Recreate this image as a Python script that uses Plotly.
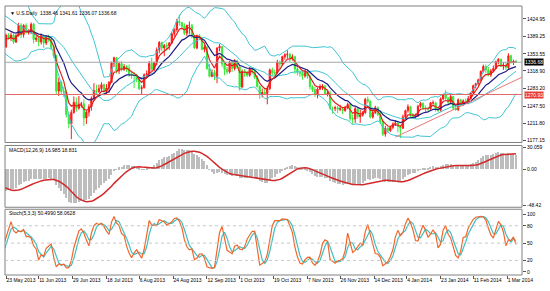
import numpy as np
import pandas as pd
import plotly.graph_objects as go

# ---------------- data (daily bars, gold) ----------------
start_date = "2013-04-01"
end_date = "2014-03-06"
holidays = ["2013-12-25", "2014-01-01"]
first_visible = "2013-05-23"

opens = [
    1597,1598,1575,1554,1556,1580,1574,1585,1558,1564,1477,1348,1368,1377,1392,1405,1424,1411,1432,1463,1462,1467,
    1472,1446,1467,1470,1468,1450,1473,1469,1436,1433,1425,1395,1387,1364,1384,1377,
    1368,1392,1386,1392,1378,1391,1412,
    1393,1412,1397,1398,1414,1383,1386,1378,1391,1376,1387,1384,1367,1350,1278,1296,1277,1276,1230,1211,
    1234,1255,1243,1251,1252,1223,1235,1246,1263,1279,1277,1283,1291,1277,1284,1296,1335,1346,1319,1334,1322,1328,1325,
    1313,1310,1310,1302,1283,1285,1311,1313,1334,1322,1336,1362,1377,1366,1371,1370,1376,1395,1403,1420,1418,1410,
    1396,1412,1412,1390,1366,1391,1386,1363,1367,1324,1308,1316,1308,1366,1369,1333,1322,1317,1337,1324,1339,
    1327,1286,1318,1317,1310,1324,1319,1306,1287,1272,1275,1273,1283,1321,1315,1315,1337,1333,1348,1352,1353,1345,1348,
    1323,1316,1314,1309,1318,1308,1287,1281,1272,1282,1287,1288,1273,1274,1243,1243,1244,1241,1242,1238,1245,
    1251,1222,1221,1242,1226,1229,1234,1261,1257,1225,1234,1244,1230,1216,1190,1202,1197,1204,1211,1213,1206,
    1202,1225,1238,1246,1230,1226,1229,1247,1253,1244,1242,1242,1254,1254,1241,1239,1262,1270,1263,1255,1267,1243,
    1240,1260,1251,1258,1257,1263,1274,1289,1293,1301,1318,1328,1321,1311,1319,1324,1338,1343,1329,1331,
    1326,1350,1337,1338.46,
]
highs = [
    1605,1604,1580,1563,1588,1582,1590,1589,1568,1565,1480,1383,1392,1396,1425,1429,1427,1434,1468,1477,1470,1477,
    1473,1470,1487,1474,1470,1476,1479,1471,1441,1438,1427,1397,1390,1385,1396,1392,
    1395,1396,1397,1395,1394,1417,1416,
    1414,1416,1404,1418,1417,1390,1391,1395,1393,1392,1393,1389,1370,1352,1305,1299,1287,1280,1236,1240,
    1267,1265,1268,1256,1261,1238,1251,1267,1294,1291,1291,1296,1293,1292,1298,1338,1348,1347,1338,1339,1333,1331,1332,
    1318,1317,1313,1305,1290,1314,1320,1339,1346,1338,1367,1380,1379,1374,1377,1378,1398,1406,1425,1434,1419,1416,
    1413,1420,1415,1392,1393,1394,1388,1372,1370,1333,1322,1321,1367,1374,1370,1337,1327,1340,1338,1343,1342,
    1330,1322,1323,1319,1327,1327,1322,1310,1290,1283,1285,1289,1324,1326,1322,1342,1340,1350,1355,1361,1356,1353,1350,
    1327,1320,1318,1321,1323,1311,1290,1286,1285,1292,1292,1290,1278,1279,1246,1248,1248,1250,1246,1248,1254,
    1253,1230,1246,1244,1240,1237,1264,1267,1259,1240,1248,1247,1238,1218,1207,1205,1206,1214,1219,1216,1208,
    1230,1240,1251,1248,1233,1232,1250,1256,1255,1248,1246,1256,1259,1256,1244,1265,1272,1280,1266,1270,1268,1250,
    1263,1262,1261,1263,1268,1276,1291,1295,1303,1320,1332,1332,1327,1323,1330,1340,1345,1344,1337,1337,
    1355,1352,1342,1341.61,
]
lows = [
    1590,1571,1546,1539,1553,1565,1570,1555,1556,1474,1321,1340,1364,1370,1391,1395,1404,1410,1430,1459,1455,1463,
    1443,1441,1461,1459,1442,1447,1462,1428,1421,1418,1390,1372,1359,1338,1375,1366,
    1366,1383,1380,1374,1376,1389,1386,
    1387,1395,1393,1394,1375,1378,1369,1373,1366,1372,1378,1362,1345,1270,1268,1270,1266,1224,1202,1180,
    1232,1236,1240,1244,1207,1211,1226,1238,1258,1272,1274,1278,1269,1270,1274,1294,1327,1314,1313,1318,1319,1317,1307,
    1303,1284,1296,1280,1271,1283,1306,1308,1319,1318,1330,1355,1359,1349,1360,1362,1374,1389,1399,1411,1403,1392,
    1390,1394,1385,1364,1363,1382,1361,1357,1321,1306,1306,1300,1294,1359,1327,1310,1312,1314,1317,1320,1323,
    1279,1285,1307,1306,1307,1312,1302,1285,1262,1265,1270,1251,1280,1309,1306,1313,1322,1330,1342,1344,1337,1340,1313,
    1310,1307,1301,1305,1303,1281,1276,1266,1263,1280,1280,1270,1267,1240,1232,1237,1233,1237,1231,1236,1241,
    1217,1211,1213,1222,1213,1226,1231,1253,1222,1222,1231,1227,1211,1186,1185,1193,1195,1200,1207,1194,1182,
    1201,1222,1234,1225,1221,1222,1225,1244,1240,1234,1236,1240,1250,1236,1235,1236,1260,1260,1250,1252,1240,1238,
    1237,1248,1248,1252,1251,1261,1273,1283,1289,1298,1316,1315,1308,1307,1317,1322,1333,1327,1321,1321,
    1323,1334,1331,1336.07,
]
closes = [
    1598,1575,1554,1556,1580,1574,1585,1558,1564,1477,1348,1368,1377,1392,1405,1424,1411,1432,1463,1462,1467,1472,
    1446,1467,1470,1468,1450,1473,1469,1436,1433,1425,1395,1387,1364,1384,1377,1368,
    1392,1386,1392,1378,1391,1412,1393,
    1412,1397,1398,1414,1383,1386,1378,1391,1376,1387,1384,1367,1350,1278,1296,1277,1276,1230,1211,1234,
    1255,1243,1251,1252,1223,1235,1246,1263,1279,1277,1283,1291,1277,1284,1296,1335,1346,1319,1334,1322,1328,1325,1313,
    1310,1310,1302,1283,1285,1311,1313,1334,1322,1336,1362,1377,1366,1371,1370,1376,1395,1403,1420,1418,1410,1396,
    1412,1412,1390,1366,1391,1386,1363,1367,1324,1308,1316,1308,1366,1369,1333,1322,1317,1337,1324,1339,1327,
    1286,1318,1317,1310,1324,1319,1306,1287,1272,1275,1273,1283,1321,1315,1315,1337,1333,1348,1352,1353,1345,1348,1323,
    1316,1314,1309,1318,1308,1287,1281,1272,1282,1287,1288,1273,1274,1243,1243,1244,1241,1242,1238,1245,1251,
    1222,1221,1242,1226,1229,1234,1261,1257,1225,1234,1244,1230,1216,1190,1202,1197,1204,1211,1213,1206,1202,
    1225,1238,1246,1230,1226,1229,1247,1253,1244,1242,1242,1254,1254,1241,1239,1262,1270,1263,1255,1267,1243,1240,
    1260,1251,1258,1257,1263,1274,1289,1293,1301,1318,1328,1321,1311,1319,1324,1338,1343,1329,1331,1326,
    1350,1337,1338,1336.68,
]

tick_dates = ["2013-05-23", "2013-06-11", "2013-06-29", "2013-07-18", "2013-08-06", "2013-08-24",
              "2013-09-12", "2013-10-01", "2013-10-19", "2013-11-07", "2013-11-26", "2013-12-14",
              "2014-01-04", "2014-01-23", "2014-02-11", "2014-03-01"]
tick_labels = ["23 May 2013", "11 Jun 2013", "29 Jun 2013", "18 Jul 2013", "6 Aug 2013", "24 Aug 2013",
               "12 Sep 2013", "1 Oct 2013", "19 Oct 2013", "7 Nov 2013", "26 Nov 2013", "14 Dec 2013",
               "4 Jan 2014", "23 Jan 2014", "11 Feb 2014", "1 Mar 2014"]

price_ticks = [1424.95, 1389.25, 1353.55, 1318.90, 1283.20, 1247.50, 1211.80, 1177.15]
macd_ticks = [30.059, 0.0, -48.42]
macd_tick_text = ["30.059", "0.00", "-48.42"]
stoch_ticks = [100, 80, 50, 20, 0]

last_price = 1336.68
level_line = 1270.93
trend_dates = ["2013-12-27", "2014-03-05"]
trend_prices = [1184, 1298]

title_main = "\u25bc U.S.Daily  1338.46 1341.61 1336.07 1336.68"
title_macd = "MACD(12,26,9) 16.985 18.831"
title_stoch = "Stoch(5,3,3) 50.4990 58.0628"

# ---------------- indicators ----------------
dates = pd.bdate_range(start_date, end_date, freq="C", holidays=holidays)
n = len(closes)
assert len(dates) == n == len(opens) == len(highs) == len(lows), (len(dates), n, len(opens), len(highs), len(lows))
idx = np.arange(n)
c = pd.Series(closes, dtype=float)
h = pd.Series(highs, dtype=float)
l = pd.Series(lows, dtype=float)

mid = c.rolling(20).mean()
sd = c.rolling(20).std(ddof=0)
bb_up = mid + 2 * sd
bb_lo = mid - 2 * sd
ma_fast = c.ewm(span=5, adjust=False).mean()
ma_slow = c.ewm(span=13, adjust=False).mean()

macd = c.ewm(span=12, adjust=False).mean() - c.ewm(span=26, adjust=False).mean()
macd_sig = macd.rolling(9).mean()

hh = h.rolling(5).max()
ll = l.rolling(5).min()
k_main = 100 * (c - ll).rolling(3).sum() / (hh - ll).rolling(3).sum()
k_sig = k_main.rolling(3).mean()

v0 = int(np.searchsorted(dates, pd.Timestamp(first_visible)))
x_lo = v0 - 0.4
x_hi = v0 + 205.4


def pos_of(d):
    d = pd.Timestamp(d)
    p = int(np.searchsorted(dates, d, side="right")) - 1
    return p if dates[p] == d else p + 0.5


tick_pos = [pos_of(d) for d in tick_dates]
tx = [pos_of(d) for d in trend_dates]
slope = (trend_prices[1] - trend_prices[0]) / (tx[1] - tx[0])
trend_x = [tx[0], x_hi]
trend_y = [trend_prices[0], trend_prices[0] + slope * (x_hi - tx[0])]

# ---------------- figure ----------------
FONT = "Liberation Sans"
BB_COL = "#3fc4d2"
fig = go.Figure()

for s in (bb_up, mid, bb_lo):
    fig.add_trace(go.Scatter(x=idx, y=s, mode="lines", line=dict(color=BB_COL, width=1),
                             xaxis="x", yaxis="y", hoverinfo="skip"))

fig.add_trace(go.Candlestick(x=idx, open=opens, high=highs, low=lows, close=closes,
                             increasing=dict(line=dict(color="#ff1a1a", width=1), fillcolor="#ff1a1a"),
                             decreasing=dict(line=dict(color="#3ae83a", width=1), fillcolor="#3ae83a"),
                             whiskerwidth=0, xaxis="x", yaxis="y"))
fig.add_trace(go.Scatter(x=idx, y=ma_slow, mode="lines", line=dict(color="#1c1c86", width=1.2),
                         xaxis="x", yaxis="y"))
fig.add_trace(go.Scatter(x=idx, y=ma_fast, mode="lines", line=dict(color="#e0201c", width=1.2),
                         xaxis="x", yaxis="y"))
fig.add_trace(go.Scatter(x=trend_x, y=trend_y, mode="lines", line=dict(color="#e87878", width=1),
                         xaxis="x", yaxis="y"))

fig.add_trace(go.Bar(x=idx, y=macd, marker=dict(color="#bdbdbd", line=dict(width=0)), width=0.45,
                     xaxis="x", yaxis="y2"))
fig.add_trace(go.Scatter(x=idx, y=macd_sig, mode="lines", line=dict(color="#d22a2a", width=1.5),
                         xaxis="x", yaxis="y2"))

fig.add_trace(go.Scatter(x=idx, y=k_sig, mode="lines", line=dict(color="#3ebfc0", width=1.2),
                         xaxis="x", yaxis="y3"))
fig.add_trace(go.Scatter(x=idx, y=k_main, mode="lines", line=dict(color="#f0662a", width=1.2),
                         xaxis="x", yaxis="y3"))

H = 270.0
def frac(px):
    return (275 - px) / H

dom_main = [frac(142), frac(5)]
dom_macd = [frac(207), frac(145)]
dom_stoch = [frac(275), frac(209)]

axis_font = dict(family=FONT, size=5, color="#000000")
common_y = dict(side="right", showgrid=False, zeroline=False, ticks="outside", ticklen=3,
                tickcolor="#555555", tickfont=axis_font, showline=False)

shapes = []
for d in (dom_main, dom_macd, dom_stoch):
    shapes.append(dict(type="rect", xref="paper", yref="paper", x0=0, x1=1, y0=d[0], y1=d[1],
                       line=dict(color="#808080", width=1), layer="above"))
shapes.append(dict(type="line", xref="paper", yref="y", x0=0, x1=1, y0=last_price, y1=last_price,
                   line=dict(color="#a6a6a6", width=1)))
shapes.append(dict(type="line", xref="paper", yref="y", x0=0, x1=1, y0=level_line, y1=level_line,
                   line=dict(color="#e46a6a", width=1)))
for lv in (80, 50, 20):
    shapes.append(dict(type="line", xref="paper", yref="y3", x0=0, x1=1, y0=lv, y1=lv,
                       line=dict(color="#c8c8c8", width=1, dash="dot")))

annotations = [
    dict(text=title_main, xref="paper", yref="paper", x=0.006, y=frac(12), xanchor="left",
         yanchor="middle", showarrow=False, font=axis_font),
    dict(text=title_macd, xref="paper", yref="paper", x=0.004, y=frac(150), xanchor="left",
         yanchor="middle", showarrow=False, font=axis_font),
    dict(text=title_stoch, xref="paper", yref="paper", x=0.004, y=frac(213), xanchor="left",
         yanchor="middle", showarrow=False, font=axis_font),
    dict(text=f"{last_price:.2f}", xref="paper", yref="y", x=1.0, y=last_price, xanchor="left",
         yanchor="middle", xshift=2, showarrow=False, bgcolor="#000000",
         font=dict(family=FONT, size=5, color="#ffffff"), borderpad=0),
    dict(text=f"{level_line:.2f}", xref="paper", yref="y", x=1.0, y=level_line, xanchor="left",
         yanchor="middle", xshift=2, showarrow=False, bgcolor="#e83a3a",
         font=dict(family=FONT, size=5, color="#ffffff"), borderpad=0),
]

fig.update_layout(
    width=550, height=291,
    margin=dict(l=5, r=22, t=5, b=16),
    paper_bgcolor="#ffffff", plot_bgcolor="#ffffff",
    showlegend=False, bargap=0,
    xaxis=dict(domain=[0, 1], anchor="y3", range=[x_lo, x_hi], tickvals=tick_pos, ticktext=tick_labels,
               ticks="outside", ticklen=3, tickcolor="#555555", tickfont=axis_font, showgrid=False,
               zeroline=False, showline=False, ticklabelposition="outside right", tickangle=0,
               rangeslider=dict(visible=False)),
    yaxis=dict(domain=dom_main, range=[1173.1, 1451.4], tickvals=price_ticks,
               ticktext=[f"{v:.2f}" for v in price_ticks], anchor="x", **common_y),
    yaxis2=dict(domain=dom_macd, range=[-51.13, 32.77], tickvals=macd_ticks, ticktext=macd_tick_text,
                anchor="x", **common_y),
    yaxis3=dict(domain=dom_stoch, range=[-5.2, 108.6], tickvals=stoch_ticks,
                ticktext=[str(v) for v in stoch_ticks], anchor="x", **common_y),
    shapes=shapes,
    annotations=annotations,
)

fig.write_html("out.html")
